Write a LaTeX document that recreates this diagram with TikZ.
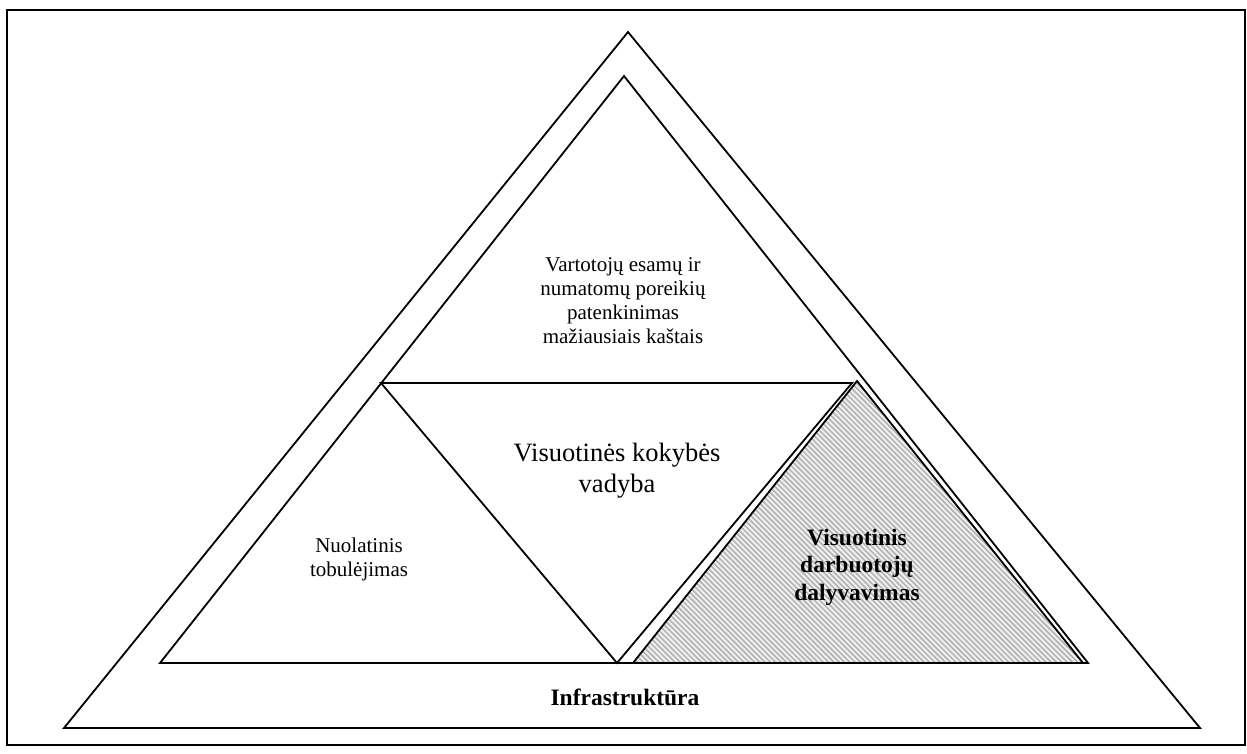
\documentclass[tikz,border=0pt]{standalone}
\usepackage{fontspec}
\setmainfont{Liberation Serif}
\begin{document}
\begin{tikzpicture}[x=1pt,y=-1pt,
  edge/.style={line width=1.8pt,line join=miter},
  stripe/.style={line width=1.5pt,black!30},
  lbl/.style={inner sep=0pt,align=center,anchor=base},
  plain/.style={font=\fontsize{21}{24}\selectfont},
  large/.style={font=\fontsize{26.5}{30.5}\selectfont},
  heavy/.style={font=\fontsize{23.5}{27.5}\selectfont\bfseries}]
\useasboundingbox (0,0) rectangle (1247,753);

% frame
\draw[line width=1.8pt] (7,10) rectangle (1245,745);

% corner points
\coordinate (oTop) at (628,32);
\coordinate (oL) at (64,728);
\coordinate (oR) at (1200,728);
\coordinate (iTop) at (624,76);
\coordinate (iL) at (160,663);
\coordinate (iR) at (1088,663);
\coordinate (mL) at (381,383);
\coordinate (mR) at (852,383);
\coordinate (mB) at (617,663);
\coordinate (hTop) at (857,381);
\coordinate (hL) at (633,663);
\coordinate (hR) at (1083,663);

% hatched triangle
\begin{scope}
  \clip (hTop) -- (hL) -- (hR) -- cycle;
  \fill[black!6] (hTop) -- (hL) -- (hR) -- cycle;
  \foreach \s in {340,345.3,...,1100}
    \draw[stripe] (\s,375) -- ++(295,295);
\end{scope}
\draw[edge] (hTop) -- (hL) -- (hR) -- cycle;

% outer and inner triangles
\draw[edge] (oTop) -- (oL) -- (oR) -- cycle;
\draw[edge] (iTop) -- (iL) -- (iR) -- cycle;

% inverted middle triangle
\draw[edge] (mL) -- (mR) -- (mB) -- cycle;

% labels (anchored at the baseline of the last line)
\node[lbl,plain] (top) at (623,343) {Vartotojų esamų ir\\numatomų poreikių\\patenkinimas\\mažiausiais kaštais};
\node[lbl,large] (mid) at (617,492) {Visuotinės kokybės\\vadyba};
\node[lbl,plain] (left) at (359,576) {Nuolatinis\\tobulėjimas};
\node[lbl,heavy] (right) at (857,600) {Visuotinis\\darbuotojų\\dalyvavimas};
\node[lbl,heavy] (base) at (625,705) {Infrastruktūra};
\end{tikzpicture}
\end{document}
